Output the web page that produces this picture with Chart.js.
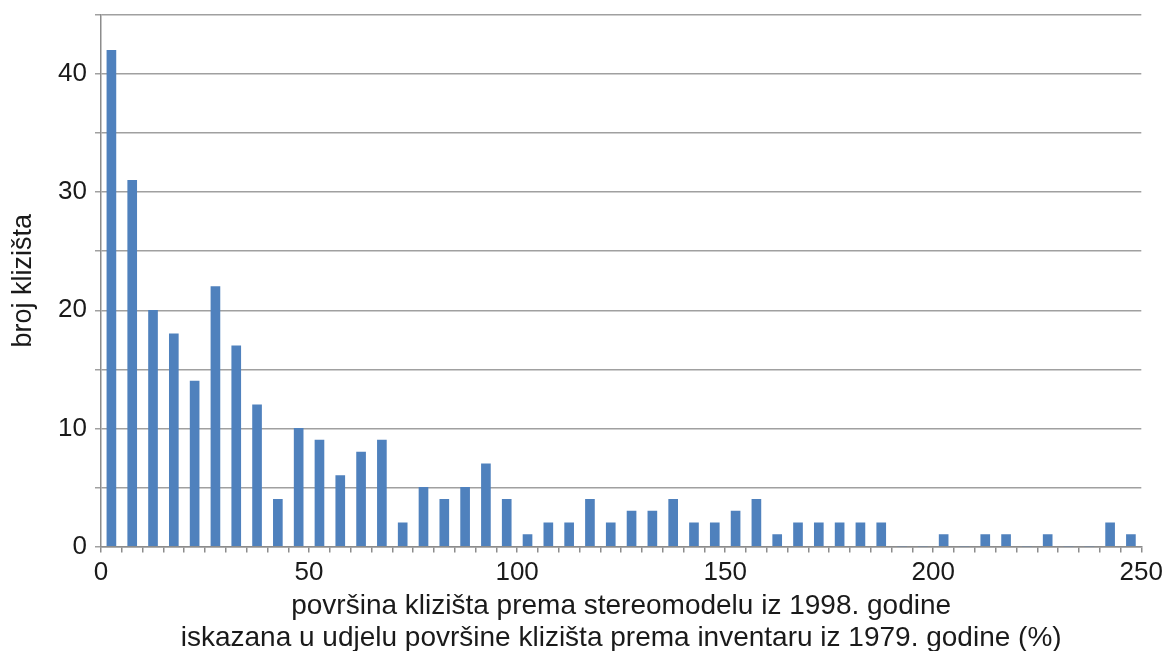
<!DOCTYPE html>
<html>
<head>
<meta charset="utf-8">
<title>broj klizišta</title>
<script src="https://cdn.jsdelivr.net/npm/chart.js@4.4.1/dist/chart.umd.min.js"></script>
<style>
  html, body { margin: 0; padding: 0; background: #fff; }
  #wrap { width: 1168px; height: 651px; }
</style>
</head>
<body>
<div id="wrap"><canvas id="hist" width="1168" height="651"></canvas></div>
<script>
// histogram bins (% of 1979 area), 5 % wide
const BIN_WIDTH = 5;
const binStart = [
  0, 5, 10, 15, 20, 25, 30, 35, 40, 45,
  50, 55, 60, 65, 70, 75, 80, 85, 90, 95,
  100, 105, 110, 115, 120, 125, 130, 135, 140, 145,
  150, 155, 160, 165, 170, 175, 180, 185, 190, 195,
  200, 205, 210, 215, 220, 225, 230, 235, 240, 245
];
// number of landslides per bin
const counts = [
  42, 31, 20, 18, 14, 22, 17, 12, 4, 10,
  9, 6, 8, 9, 2, 5, 4, 5, 7, 4,
  1, 2, 2, 4, 2, 3, 3, 4, 2, 2,
  3, 4, 1, 2, 2, 2, 2, 2, 0, 0,
  1, 0, 1, 1, 0, 1, 0, 0, 2, 1
];
const xTickLabels = [0, 50, 100, 150, 200, 250];
const yTickLabels = [0, 10, 20, 30, 40];

const xTitle = [
  'površina klizišta prema stereomodelu iz 1998. godine',
  'iskazana u udjelu površine klizišta prema inventaru iz 1979. godine (%)'
];
const yTitle = 'broj klizišta';

const FONT = 'Liberation Sans, Arial, sans-serif';
const TEXT = '#1a1a1a';
const AXIS = '#8c8c8c';
const GRID = '#a0a0a0';

const points = binStart.map((s, i) => ({ x: s + BIN_WIDTH / 2, y: counts[i] }));

new Chart(document.getElementById('hist'), {
  type: 'bar',
  data: {
    datasets: [{
      data: points,
      backgroundColor: '#4F81BD',
      borderWidth: 0,
      barThickness: 9
    }]
  },
  options: {
    responsive: false,
    animation: false,
    layout: { padding: { left: 0, right: 26, top: 15, bottom: 0 } },
    plugins: {
      legend: { display: false },
      tooltip: { enabled: false }
    },
    scales: {
      x: {
        type: 'linear',
        min: 0,
        max: 250,
        offset: false,
        grid: { offset: false, drawOnChartArea: false, drawTicks: true, tickLength: 6, color: AXIS, lineWidth: 1.5 },
        border: { color: AXIS, width: 1.5 },
        ticks: {
          stepSize: BIN_WIDTH,
          autoSkip: false,
          maxRotation: 0,
          padding: 5,
          color: TEXT,
          font: { family: FONT, size: 26 },
          callback: v => xTickLabels.includes(v) ? String(v) : ''
        },
        title: {
          display: true,
          text: xTitle,
          color: TEXT,
          font: { family: FONT, size: 28, lineHeight: 1.14 },
          padding: { top: 0, bottom: -3 }
        },
        afterFit: s => { s.height = 104.5; }
      },
      y: {
        min: 0,
        max: 45,
        grid: { color: GRID, lineWidth: 1.5, tickLength: 6, drawTicks: true },
        border: { color: AXIS, width: 1.5 },
        ticks: {
          stepSize: 5,
          padding: 8,
          color: TEXT,
          font: { family: FONT, size: 26 },
          callback: v => yTickLabels.includes(v) ? String(v) : ''
        },
        title: {
          display: true,
          text: yTitle,
          color: TEXT,
          font: { family: FONT, size: 27, lineHeight: 1.2 },
          padding: { top: 7, bottom: 0 }
        },
        afterFit: s => {
          s.width = 101;
          // the top tick has no label, so it needs no extra room above the plot
          s.paddingTop = 0;
          s.paddingBottom = 0;
        }
      }
    }
  }
});
</script>
</body>
</html>
